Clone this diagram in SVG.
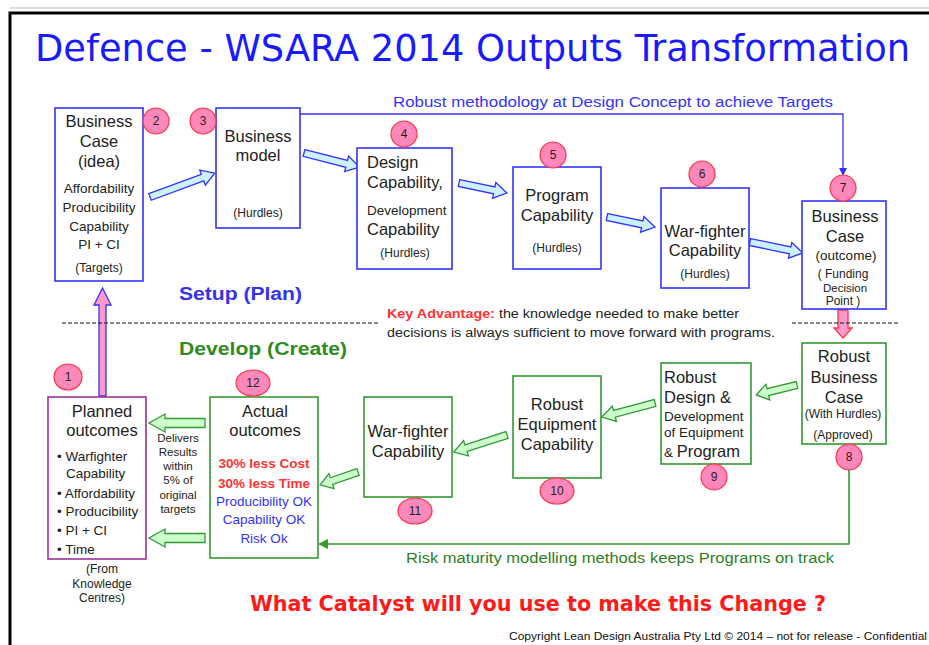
<svg xmlns="http://www.w3.org/2000/svg" width="929" height="645" viewBox="0 0 929 645">
<style>
text{font-family:"Liberation Sans",Arial,sans-serif;fill:#222}
.c{text-anchor:middle}
.bb{fill:#fff;stroke:#3333ff;stroke-width:1.6}
.gb{fill:#fff;stroke:#339933;stroke-width:1.6}
.pb{fill:#fff;stroke:#993399;stroke-width:1.6}
.num{fill:#ff88bb;stroke:#ff3344;stroke-width:1.2}
.nt{font-size:12px;text-anchor:middle;fill:#222}
.ba{fill:#ccf2ff;stroke:#3333ff;stroke-width:1.3}
.ga{fill:#ccffcc;stroke:#339933;stroke-width:1.3}
.pa{fill:#ff99cc;stroke:#ff3344;stroke-width:1.3}
.comic{font-family:"DejaVu Sans Condensed","DejaVu Sans",sans-serif}
.big{font-size:16.5px}
.t14{font-size:14px}
.sm{font-size:13.5px}
.t12{font-size:12px}
.t11{font-size:11.5px}
</style>
<rect width="929" height="645" fill="#fff"/>
<path d="M10,645 V13 H929" fill="none" stroke="#000" stroke-width="3"/>
<line x1="10" y1="8" x2="929" y2="8" stroke="#bbb" stroke-width="1"/>

<text class="comic" x="35" y="61" font-size="38" style="fill:#1a1aff" textLength="875" lengthAdjust="spacingAndGlyphs">Defence - WSARA 2014 Outputs Transformation</text>

<!-- connectors -->
<g id="connectors">
  <path d="M300,114 H843 V170" fill="none" stroke="#3333ff" stroke-width="1.3"/>
  <path d="M839,168 L843,176 L847,168 Z" fill="#3333ff"/>
  <path d="M849,470 V544 H326" fill="none" stroke="#339933" stroke-width="1.6"/>
  <path d="M328,539 L318,544 L328,549 Z" fill="#339933"/>
  <!-- blue block arrows -->
  <path class="ba" transform="translate(150,197) rotate(-20.3)" d="M0,-3.5 H56 V-8 L69,0 L56,8 V3.5 H0 Z"/>
  <path class="ba" transform="translate(304,153) rotate(14.3)" d="M0,-3.5 H44 V-8 L57,0 L44,8 V3.5 H0 Z"/>
  <path class="ba" transform="translate(459,183) rotate(11.8)" d="M0,-3.5 H36 V-8 L49,0 L36,8 V3.5 H0 Z"/>
  <path class="ba" transform="translate(607,217) rotate(11.8)" d="M0,-3.5 H36 V-8 L49,0 L36,8 V3.5 H0 Z"/>
  <path class="ba" transform="translate(750,242) rotate(11.7)" d="M0,-3.5 H41 V-8 L54,0 L41,8 V3.5 H0 Z"/>
  <!-- green block arrows -->
  <path class="ga" transform="translate(797,385) rotate(166.3)" d="M0,-3.5 H30 V-8 L42,0 L30,8 V3.5 H0 Z"/>
  <path class="ga" transform="translate(655,403) rotate(165.2)" d="M0,-3.5 H42 V-8 L55,0 L42,8 V3.5 H0 Z"/>
  <path class="ga" transform="translate(507,435) rotate(162.2)" d="M0,-3.5 H43 V-8 L56,0 L43,8 V3.5 H0 Z"/>
  <path class="ga" transform="translate(358,472) rotate(161.1)" d="M0,-3.5 H28 V-8 L40,0 L28,8 V3.5 H0 Z"/>
  <path class="ga" transform="translate(205,423) rotate(180)" d="M0,-4.5 H40 V-9 L56,0 L40,9 V4.5 H0 Z"/>
  <path class="ga" transform="translate(205,538) rotate(180)" d="M0,-4.5 H40 V-9 L56,0 L40,9 V4.5 H0 Z"/>
  <!-- pink arrows -->
  <path class="pa" d="M838,310 V328 H834 L843,338 L852,328 H848 V310 Z"/>
  <path d="M99,396 V305 H94 L102.5,288 L111,305 H106 V396 Z" fill="#ff99cc" stroke="#3333ff" stroke-width="1.3"/>
</g>

<text x="393" y="107" class="t14" style="fill:#3333ff" textLength="440" lengthAdjust="spacingAndGlyphs">Robust methodology at Design Concept  to achieve Targets</text>

<!-- Top row -->
<g id="n2">
  <rect class="bb" x="55" y="108" width="88" height="173"/>
  <text class="c big" x="99" y="127">Business</text>
  <text class="c big" x="99" y="147">Case</text>
  <text class="c big" x="99" y="167">(idea)</text>
  <text class="c sm" x="99" y="193">Affordability</text>
  <text class="c sm" x="99" y="212">Producibility</text>
  <text class="c sm" x="99" y="231">Capability</text>
  <text class="c sm" x="99" y="249">PI + CI</text>
  <text class="c t12" x="99" y="272">(Targets)</text>
  <circle class="num" cx="156" cy="121" r="13"/>
  <text class="nt" x="156" y="125">2</text>
</g>
<g id="n3">
  <rect class="bb" x="216" y="108" width="84" height="120"/>
  <text class="c big" x="258" y="142">Business</text>
  <text class="c big" x="258" y="161">model</text>
  <text class="c t12" x="258" y="217">(Hurdles)</text>
  <circle class="num" cx="203" cy="121" r="13"/>
  <text class="nt" x="203" y="125">3</text>
</g>
<g id="n4">
  <rect class="bb" x="357" y="148" width="95" height="121"/>
  <text class="big" x="367" y="168">Design</text>
  <text class="big" x="367" y="188">Capability,</text>
  <text class="sm" x="367" y="215">Development</text>
  <text class="big" x="367" y="235">Capability</text>
  <text class="c t12" x="405" y="257">(Hurdles)</text>
  <circle class="num" cx="404" cy="134" r="13"/>
  <text class="nt" x="404" y="138">4</text>
</g>
<g id="n5">
  <rect class="bb" x="513" y="167" width="88" height="102"/>
  <text class="c big" x="557" y="201">Program</text>
  <text class="c big" x="557" y="221">Capability</text>
  <text class="c t12" x="557" y="252">(Hurdles)</text>
  <circle class="num" cx="553" cy="155" r="13"/>
  <text class="nt" x="553" y="159">5</text>
</g>
<g id="n6">
  <rect class="bb" x="661" y="188" width="88" height="100"/>
  <text class="c big" x="705" y="237">War-fighter</text>
  <text class="c big" x="705" y="256">Capability</text>
  <text class="c t12" x="705" y="278">(Hurdles)</text>
  <circle class="num" cx="702" cy="174" r="13"/>
  <text class="nt" x="702" y="178">6</text>
</g>
<g id="n7">
  <rect class="bb" x="802" y="201" width="84" height="108"/>
  <text class="c big" x="845" y="222">Business</text>
  <text class="c big" x="845" y="242">Case</text>
  <text class="c sm" x="846" y="260">(outcome)</text>
  <text class="c t12" x="843" y="278">( Funding</text>
  <text class="c t11" x="845" y="292">Decision</text>
  <text class="c t12" x="843" y="305">Point )</text>
  <circle class="num" cx="843" cy="188" r="13"/>
  <text class="nt" x="843" y="192">7</text>
</g>

<!-- Middle band -->
<text x="179" y="300" font-size="17.5" font-weight="bold" style="fill:#3333ee" textLength="123" lengthAdjust="spacingAndGlyphs">Setup (Plan)</text>
<text x="179" y="355" font-size="17.5" font-weight="bold" style="fill:#2e8b22" textLength="168" lengthAdjust="spacingAndGlyphs">Develop (Create)</text>
<line x1="62" y1="323" x2="378" y2="323" stroke="#111" stroke-width="1.2" stroke-dasharray="4,2"/>
<line x1="792" y1="323" x2="898" y2="323" stroke="#111" stroke-width="1.2" stroke-dasharray="4,2"/>
<text x="387" y="318" font-size="12.5" textLength="352" lengthAdjust="spacingAndGlyphs"><tspan font-weight="bold" style="fill:#ff3333">Key Advantage:</tspan> the knowledge needed to make better</text>
<text x="387" y="337" font-size="12.5" textLength="388" lengthAdjust="spacingAndGlyphs">decisions is always sufficient  to move forward with programs.</text>

<!-- Bottom row -->
<g id="n1">
  <rect class="pb" x="48" y="397" width="98" height="162"/>
  <text class="c big" x="102" y="417">Planned</text>
  <text class="c big" x="102" y="436">outcomes</text>
  <text class="sm" x="57" y="461">• Warfighter</text>
  <text class="sm" x="66" y="478">Capability</text>
  <text class="sm" x="57" y="498">• Affordability</text>
  <text class="sm" x="57" y="516">• Producibility</text>
  <text class="sm" x="57" y="535">• PI + CI</text>
  <text class="sm" x="57" y="554">• Time</text>
  <text class="c t12" x="102" y="573">(From</text>
  <text class="c t12" x="102" y="588">Knowledge</text>
  <text class="c t12" x="102" y="602">Centres)</text>
  <ellipse class="num" cx="68" cy="377" rx="14" ry="13"/>
  <text class="nt" x="68" y="381">1</text>
</g>
<g id="delivers">
  <text class="c t11" x="178" y="442">Delivers</text>
  <text class="c t11" x="178" y="456">Results</text>
  <text class="c t11" x="178" y="470">within</text>
  <text class="c t11" x="178" y="484">5% of</text>
  <text class="c t11" x="178" y="499">original</text>
  <text class="c t11" x="178" y="513">targets</text>
</g>
<g id="n12">
  <rect class="gb" x="210" y="397" width="108" height="161"/>
  <text class="c big" x="265" y="417">Actual</text>
  <text class="c big" x="265" y="436">outcomes</text>
  <text class="c sm" x="264" y="468" font-weight="bold" style="fill:#ff3333">30% less Cost</text>
  <text class="c sm" x="264" y="488" font-weight="bold" style="fill:#ff3333">30% less Time</text>
  <text class="c sm" x="264" y="506" style="fill:#3333ff">Producibility OK</text>
  <text class="c sm" x="264" y="524" style="fill:#3333ff">Capability OK</text>
  <text class="c sm" x="264" y="543" style="fill:#3333ff">Risk Ok</text>
  <ellipse class="num" cx="253" cy="383" rx="17" ry="13"/>
  <text class="nt" x="253" y="387">12</text>
</g>
<g id="n11">
  <rect class="gb" x="364" y="397" width="88" height="100"/>
  <text class="c big" x="408" y="437">War-fighter</text>
  <text class="c big" x="408" y="457">Capability</text>
  <ellipse class="num" cx="415" cy="511" rx="17" ry="13"/>
  <text class="nt" x="415" y="515">11</text>
</g>
<g id="n10">
  <rect class="gb" x="513" y="376" width="88" height="102"/>
  <text class="c big" x="557" y="410">Robust</text>
  <text class="c big" x="557" y="430">Equipment</text>
  <text class="c big" x="557" y="450">Capability</text>
  <ellipse class="num" cx="557" cy="491" rx="17" ry="13"/>
  <text class="nt" x="557" y="495">10</text>
</g>
<g id="n9">
  <rect class="gb" x="661" y="363" width="90" height="101"/>
  <text class="big" x="664" y="383">Robust</text>
  <text class="big" x="664" y="403">Design &amp;</text>
  <text class="sm" x="664" y="421">Development</text>
  <text class="sm" x="664" y="437">of Equipment</text>
  <text x="664" y="457"><tspan class="sm">&amp; </tspan><tspan class="big">Program</tspan></text>
  <circle class="num" cx="714" cy="477" r="13"/>
  <text class="nt" x="714" y="481">9</text>
</g>
<g id="n8">
  <rect class="gb" x="802" y="343" width="84" height="101"/>
  <text class="c big" x="844" y="362">Robust</text>
  <text class="c big" x="844" y="383">Business</text>
  <text class="c big" x="844" y="403">Case</text>
  <text class="c t12" x="843" y="418">(With Hurdles)</text>
  <text class="c t12" x="843" y="439">(Approved)</text>
  <circle class="num" cx="849" cy="457" r="13"/>
  <text class="nt" x="849" y="461">8</text>
</g>

<text x="406" y="563" class="t14" style="fill:#2e7d22" textLength="428" lengthAdjust="spacingAndGlyphs">Risk maturity modelling methods keeps Programs on track</text>
<text class="comic" x="250" y="611" font-size="21" font-weight="bold" style="fill:#ff1a1a" textLength="576" lengthAdjust="spacingAndGlyphs">What Catalyst will you use to make this Change ?</text>
<text x="509" y="640" font-size="10.5" style="fill:#111" textLength="418" lengthAdjust="spacingAndGlyphs">Copyright  Lean Design Australia Pty Ltd © 2014  – not for release - Confidential</text>
</svg>
